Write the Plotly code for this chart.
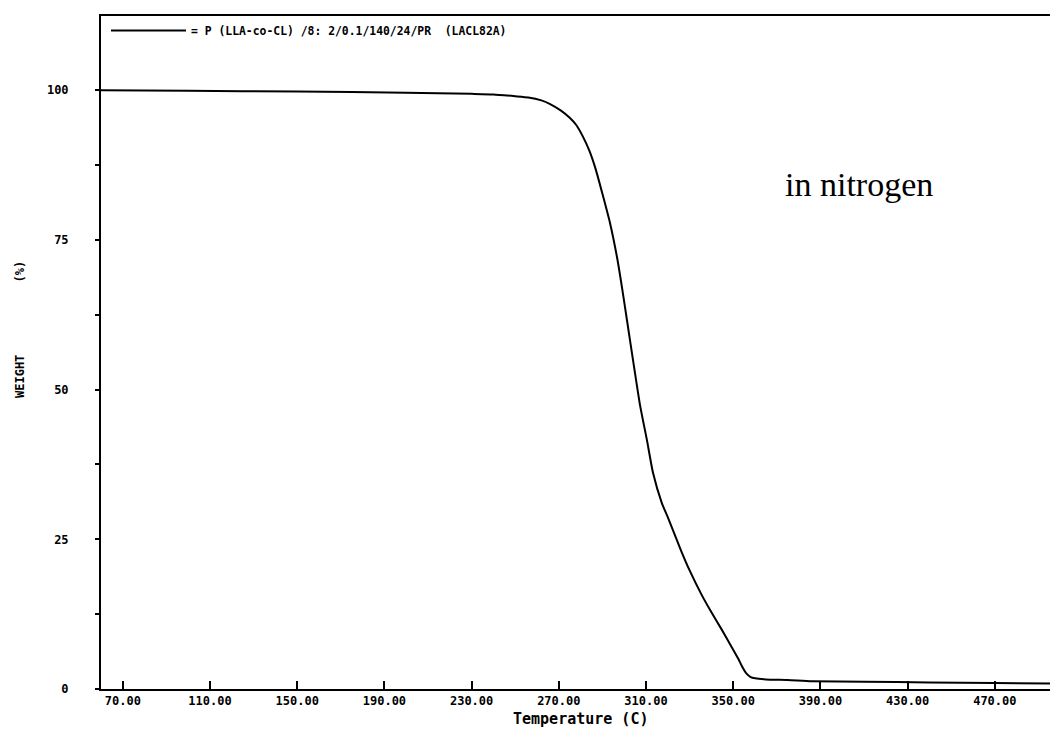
import plotly.graph_objects as go

# Data
temperature_c = [60, 100, 150, 200, 230, 240, 250, 256, 262, 266, 271, 275, 278, 281, 284, 287,
                 290, 293.5, 296.7, 299, 301.3, 304, 307.2, 310.4, 313.2, 317.3, 320.2, 326.2,
                 330, 335.4, 340, 344.6, 349, 352.4, 354, 356, 358, 360, 365, 375, 386, 410,
                 440, 470, 496]
weight_pct = [100, 99.9, 99.8, 99.6, 99.4, 99.3, 99.0, 98.8, 98.3, 97.7, 96.6, 95.4, 94.2, 92.3,
              89.9, 86.7, 82.7, 77.8, 72.1, 67.0, 61.5, 55.0, 47.5, 41.6, 36.1, 31.0, 28.5,
              23.0, 19.8, 15.8, 12.8, 10.0, 7.2, 5.0, 3.8, 2.6, 2.0, 1.8, 1.6, 1.5, 1.3, 1.2,
              1.1, 1.0, 0.9]

x_tickvals = [70, 110, 150, 190, 230, 270, 310, 350, 390, 430, 470]
x_ticktext = ["70.00", "110.00", "150.00", "190.00", "230.00", "270.00",
              "310.00", "350.00", "390.00", "430.00", "470.00"]
y_tickvals = [0, 12.5, 25, 37.5, 50, 62.5, 75, 87.5, 100]
y_ticktext = ["0", "", "25", "", "50", "", "75", "", "100"]

series_name = "= P (LLA-co-CL) /8: 2/0.1/140/24/PR\u00a0\u00a0(LACL82A)"

MONO = "DejaVu Sans Mono"

fig = go.Figure()
fig.add_trace(go.Scatter(
    x=temperature_c, y=weight_pct, mode="lines", name=series_name,
    line=dict(color="black", width=2, shape="spline", smoothing=0.5),
    showlegend=True,
))

fig.update_layout(
    width=1050, height=735,
    margin=dict(l=101, r=0, t=16, b=46, pad=0),
    paper_bgcolor="white", plot_bgcolor="white",
    showlegend=True,
    legend=dict(
        x=5 / 949, y=1.0, xanchor="left", yanchor="top",
        bgcolor="rgba(0,0,0,0)", borderwidth=0,
        font=dict(family=MONO, size=11.4, color="black", weight="bold"),
        itemwidth=75, tracegroupgap=0,
    ),
    xaxis=dict(
        range=[60, 495.3], showgrid=False, zeroline=False,
        showline=True, linecolor="black", linewidth=2, mirror=True,
        tickmode="array", tickvals=x_tickvals, ticktext=x_ticktext,
        ticks="inside", ticklen=8, tickwidth=1.5, tickcolor="black",
        tickfont=dict(family=MONO, size=12, color="black", weight="bold"),
    ),
    yaxis=dict(
        range=[0, 112.4], showgrid=False, zeroline=False,
        showline=True, linecolor="black", linewidth=2,
        tickmode="array", tickvals=y_tickvals, ticktext=y_ticktext,
        ticks="outside", ticklen=4, tickwidth=1.5, tickcolor="black",
        ticklabelstandoff=24,
        tickfont=dict(family=MONO, size=12, color="black", weight="bold"),
    ),
    annotations=[
        dict(text="Temperature (C)", xref="paper", yref="paper",
             x=(580 - 101) / 949, y=-(719 - 689) / 673, xanchor="center", yanchor="middle",
             showarrow=False, font=dict(family=MONO, size=15, color="black", weight="bold")),
        dict(text="WEIGHT" + "\u00a0" * 10 + "(%)", xref="paper", yref="paper",
             x=-(101 - 20) / 949, y=(689 - 330) / 673, xanchor="center", yanchor="middle",
             textangle=-90, showarrow=False,
             font=dict(family=MONO, size=12, color="black", weight="bold")),
        dict(text="in nitrogen", xref="paper", yref="paper",
             x=(783 - 101) / 949, y=(689 - 184) / 673, xanchor="left", yanchor="middle",
             showarrow=False, font=dict(family="Liberation Serif", size=34, color="black")),
    ],
)

fig.write_html("out.html")
